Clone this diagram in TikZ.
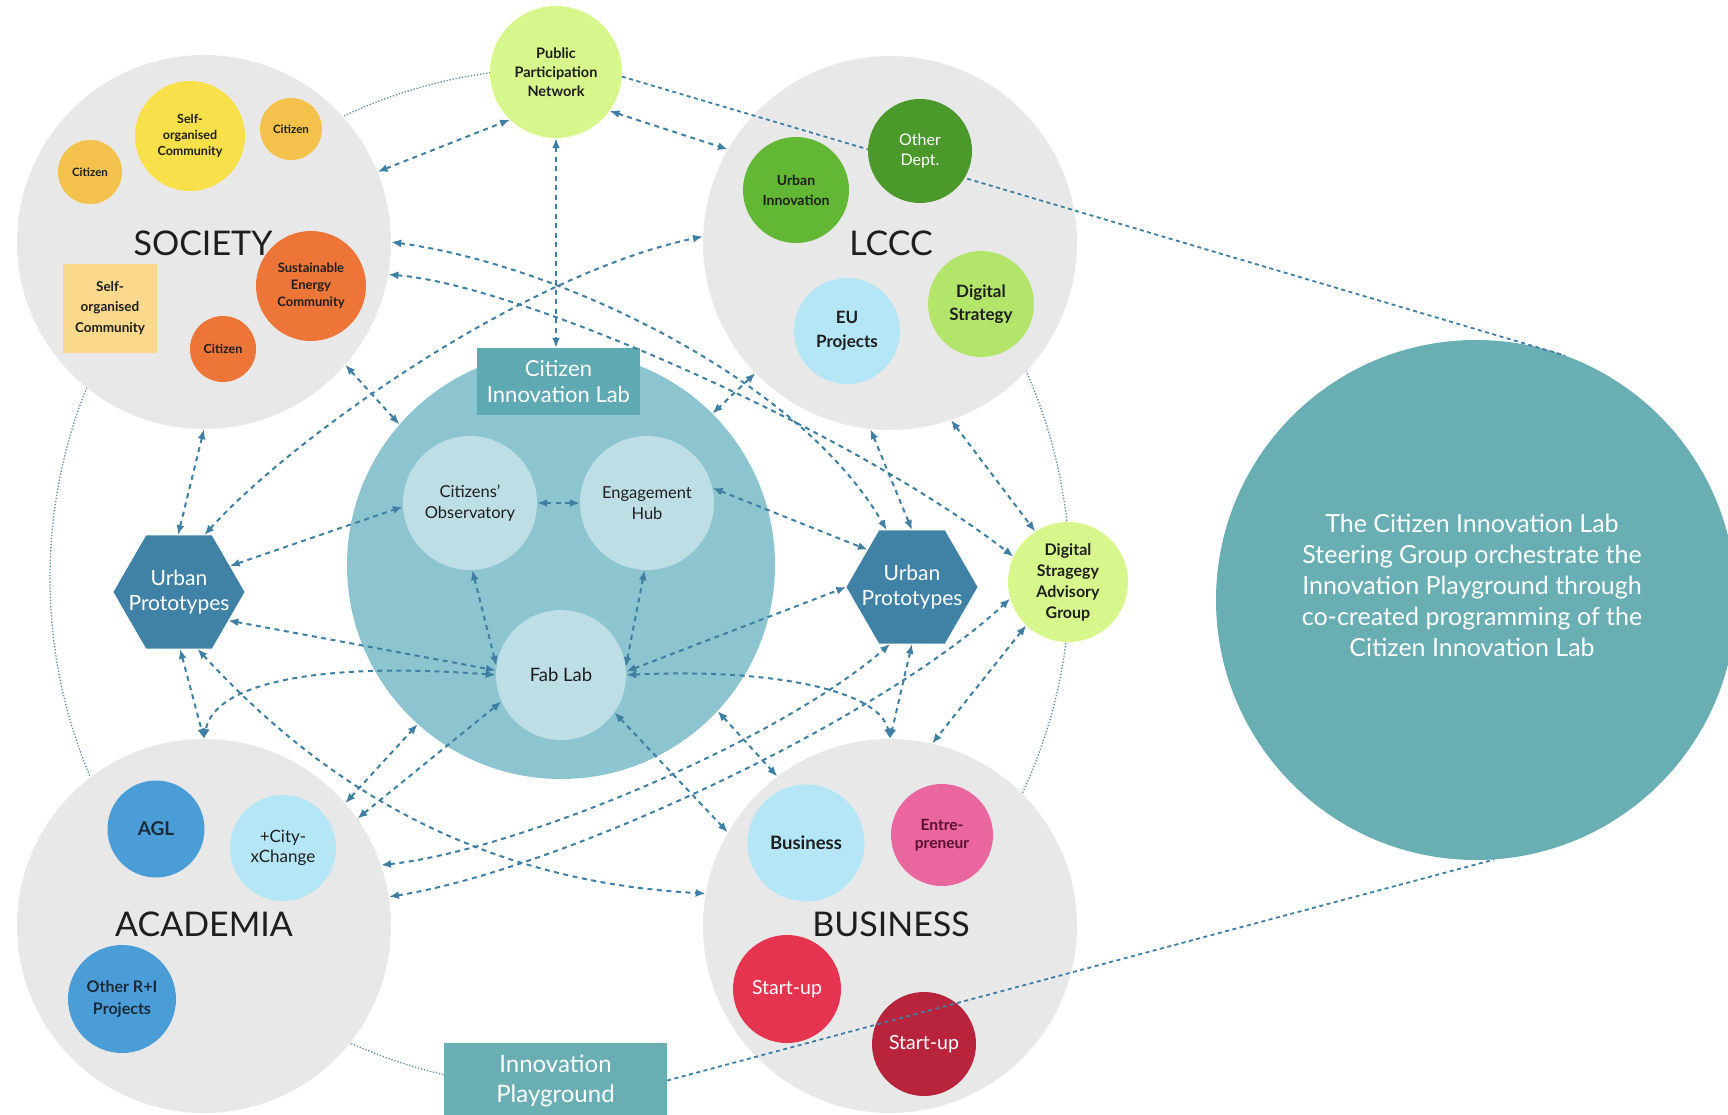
\documentclass[tikz,border=0pt]{standalone}
\usepackage{fontspec}
\setmainfont{Lato}
\usetikzlibrary{arrows.meta,shapes.geometric}
\definecolor{greyc}{HTML}{E8E8E8}
\definecolor{linkc}{HTML}{3F7FA3}
\definecolor{ringc}{HTML}{5A8DAE}
\definecolor{cilc}{HTML}{8CC4CF}
\definecolor{innc}{HTML}{BEDEE5}
\definecolor{labc}{HTML}{5FA9B3}
\definecolor{tealc}{HTML}{68AEB3}
\definecolor{hexc}{HTML}{3F82A6}
\definecolor{limec}{HTML}{D7F68C}
\definecolor{citc}{HTML}{F4C24C}
\definecolor{selfc}{HTML}{F8E04A}
\definecolor{rectc}{HTML}{FBD98C}
\definecolor{orc}{HTML}{EE7538}
\definecolor{gr1}{HTML}{62B834}
\definecolor{gr2}{HTML}{4B992B}
\definecolor{gr3}{HTML}{B4E56B}
\definecolor{skyc}{HTML}{B4E6F6}
\definecolor{bluec}{HTML}{4A9DD6}
\definecolor{pinkc}{HTML}{E9669F}
\definecolor{redc}{HTML}{E4344F}
\definecolor{dredc}{HTML}{B8243C}
\definecolor{txt}{HTML}{1E1E1E}
\definecolor{navyt}{HTML}{1B2A3A}
\definecolor{maroont}{HTML}{5A1030}
\newcommand\fs[2]{\fontsize{#1}{#2}\selectfont}
\begin{document}
\begin{tikzpicture}[x=1pt,y=-1pt,
  bigc/.style={circle,fill=greyc,minimum size=374pt,inner sep=0pt},
  dot/.style={circle,inner sep=0pt,align=center,text=txt},
  hexs/.style={regular polygon,regular polygon sides=6,minimum size=131pt,inner sep=0pt,fill=hexc},
  hext/.style={text=white,align=center,inner sep=0pt,font=\fs{21}{25}},
  biglab/.style={text=txt,inner sep=0pt,font=\fs{34}{40}},
  conn/.style={draw=linkc,line width=2pt,dash pattern=on 5pt off 4.5pt,>={Latex[length=10pt,width=8pt]},<->},
  ringl/.style={draw=ringc,line width=1.3pt,dash pattern=on 1.3pt off 1.8pt},
  zooml/.style={draw=linkc,line width=1.8pt,dash pattern=on 4pt off 3.5pt},
  boxs/.style={rectangle,inner sep=0pt,align=center,text=white}
]
\useasboundingbox (0,0) rectangle (1728,1115);
\fill[white] (0,0) rectangle (1728,1115);
\coordinate (ringc) at (560,578);
\draw[ringl] (ringc) ++(90:510) arc[start angle=90,end angle=270,radius=510];
\draw[ringl] (ringc) ++(-55:510) arc[start angle=-55,end angle=55,radius=510];

% main containers
\node[bigc] (soc) at (204,242) {};
\node[bigc] (lccc) at (890,243) {};
\node[bigc] (aca) at (204,926) {};
\node[bigc] (bus) at (890,926) {};
\node[circle,fill=cilc,minimum size=428pt,inner sep=0pt] (cil) at (561,565) {};
\node[circle,fill=tealc,minimum size=520pt,inner sep=0pt] (bigr) at (1476,600) {};
\node[text=white,align=center,font=\fs{25}{31}] (bigt) at (1472,585) {The Citizen Innovation Lab\\Steering Group orchestrate the\\Innovation Playground through\\co-created programming of the\\Citizen Innovation Lab};
\node[dot,fill=limec,minimum size=132pt,font=\bfseries\fs{14.5}{19}] (ppn) at (556,72) {Public\\Participation\\Network};
\node[dot,fill=limec,minimum size=120pt,font=\bfseries\fs{16}{21}] (dsag) at (1068,582) {Digital\\Stragegy\\Advisory\\Group};
\node[boxs,fill=labc,minimum width=163pt,minimum height=67pt,font=\fs{22}{25.5}] (cill) at (558.5,381.5) {Citizen\\Innovation Lab};
\node[boxs,fill=tealc,minimum width=223pt,minimum height=75pt,font=\fs{24}{30}] (ipg) at (555.5,1080.5) {Innovation\\Playground};
\node[hexs] (lhex) at (179,592) {};
\node[hext] (lhext) at (lhex) {Urban\\Prototypes};
\node[hexs] (rhex) at (912,587) {};
\node[hext] (rhext) at (rhex) {Urban\\Prototypes};

% Citizen Innovation Lab inner
\node[dot,fill=innc,minimum size=134pt,font=\fs{16.5}{21}] (obs) at (470,503) {Citizens'\\Observatory};
\node[dot,fill=innc,minimum size=134pt,font=\fs{16.5}{21}] (hub) at (647,503) {Engagement\\Hub};
\node[dot,fill=innc,minimum size=130pt,font=\fs{18.5}{21}] (fab) at (561,675) {Fab Lab};

% SOCIETY
\node[dot,fill=citc,minimum size=64pt,font=\bfseries\fs{11.5}{14}] (cita) at (90,172) {Citizen};
\node[dot,fill=selfc,minimum size=110pt,font=\bfseries\fs{12.5}{16}] (selfa) at (190,136) {Self-\\organised\\Community};
\node[dot,fill=citc,minimum size=62pt,font=\bfseries\fs{11.5}{14}] (citb) at (291,129) {Citizen};
\node[rectangle,fill=rectc,minimum width=94pt,minimum height=89pt,inner sep=0pt,align=center,text=txt,font=\bfseries\fs{13.5}{20.5}] (selfb) at (110,308) {Self-\\organised\\Community};
\node[dot,fill=orc,minimum size=110pt,font=\bfseries\fs{13}{17}] (sec) at (311,286) {Sustainable\\Energy\\Community};
\node[dot,fill=orc,minimum size=66pt,font=\bfseries\fs{12.5}{14}] (citc) at (223,349) {Citizen};
\node[biglab] (socT) at (203,243) {SOCIETY};

% LCCC
\node[dot,fill=gr1,minimum size=106pt,font=\bfseries\fs{14}{20}] (urbi) at (796,190) {Urban\\Innovation};
\node[dot,fill=skyc,minimum size=106pt,font=\bfseries\fs{17}{24}] (eup) at (847,331) {EU\\Projects};
\node[dot,fill=gr3,minimum size=106pt,font=\bfseries\fs{17}{23}] (digs) at (981,304) {Digital\\Strategy};
\node[biglab] (lcccT) at (891,243) {LCCC};
\draw[zooml] (ppn.-4) -- (bigr.70.7);
\node[dot,fill=gr2,minimum size=104pt,text=white,font=\fs{16}{20}] (othd) at (920,151) {Other\\Dept.};

% ACADEMIA
\node[dot,fill=bluec,minimum size=97pt,text=navyt,font=\bfseries\fs{19}{22}] (agl) at (156,829) {AGL};
\node[dot,fill=skyc,minimum size=106pt,font=\fs{17}{20}] (cxc) at (283,848) {+City-\\xChange};
\node[dot,fill=bluec,minimum size=108pt,text=navyt,font=\bfseries\fs{16}{22}] (ori) at (122,999) {Other R+I\\Projects};
\node[biglab] (acaT) at (204,924) {ACADEMIA};

% BUSINESS
\node[dot,fill=skyc,minimum size=117pt,font=\bfseries\fs{18.5}{22}] (busi) at (806,843) {Business};
\node[dot,fill=pinkc,minimum size=102pt,text=maroont,font=\bfseries\fs{15.5}{18}] (entr) at (942,835) {Entre-\\preneur};
\node[dot,fill=redc,minimum size=108pt,text=white,font=\fs{19.5}{22}] (stu1) at (787,989) {Start-up};
\node[dot,fill=dredc,minimum size=104pt,text=white,font=\fs{19.5}{22}] (stu2) at (924,1044) {Start-up};
\node[biglab] (busT) at (891,924) {BUSINESS};
\draw[zooml] (ipg.east) -- (bigr.-86);

% connectors
\draw[conn] (soc.22.6) -- (ppn.226.8);
\draw[conn] (ppn.-36.7) -- (lccc.150.2);
\draw[conn] (ppn.south) -- (ppn.south |- cill.north);
\draw[conn] (soc.-41.6) -- (cil.139);
\draw[conn] (lccc.224.2) -- (cil.45);
\draw[conn] (soc.east) .. controls (560,265) and (800,380) .. (rhex.114);
\draw[conn] (soc.-10.5) .. controls (520,285) and (850,430) .. (dsag.155.6);
\draw[conn] (lhex.66.6) .. controls (290,440) and (520,275) .. (lccc.178.8);
\draw[conn] (soc.-90) -- (lhex.91);
\draw[conn] (lhex.27.4) -- (obs.183.6);
\draw[conn] (lhex.-30.5) -- (fab.176);
\draw[conn] (lhex.-89) -- (aca.90.3);
\draw[conn] (lhex.-72.2) .. controls (300,760) and (450,880) .. (bus.170.9);
\draw[conn] (fab.180) .. controls (330,662) and (215,680) .. (aca.90);
\draw[conn] (obs.east) -- (hub.west);
\draw[conn] (obs.-88) -- (fab.172);
\draw[conn] (hub.-92) -- (fab.7);
\draw[conn] (hub.13.8) -- (rhex.140.6);
\draw[conn] (fab.3) -- (rhex.180);
\draw[conn] (fab.0) .. controls (770,668) and (880,690) .. (bus.90);
\draw[conn] (rhex.-90) -- (bus.90.5);
\draw[conn] (lccc.264.1) -- (rhex.90);
\draw[conn] (lccc.-71.2) -- (dsag.123.2);
\draw[conn] (dsag.226.4) -- (bus.77);
\draw[conn] (aca.41.9) -- (cil.228.5);
\draw[conn] (aca.35.4) -- (fab.204.7);
\draw[conn] (aca.19) .. controls (520,850) and (780,740) .. (rhex.249.2);
\draw[conn] (aca.9.4) .. controls (560,870) and (880,720) .. (dsag.196.7);
\draw[conn] (cil.-43.9) -- (bus.127.5);
\draw[conn] (fab.-35.4) -- (bus.150.3);
\end{tikzpicture}
\end{document}
